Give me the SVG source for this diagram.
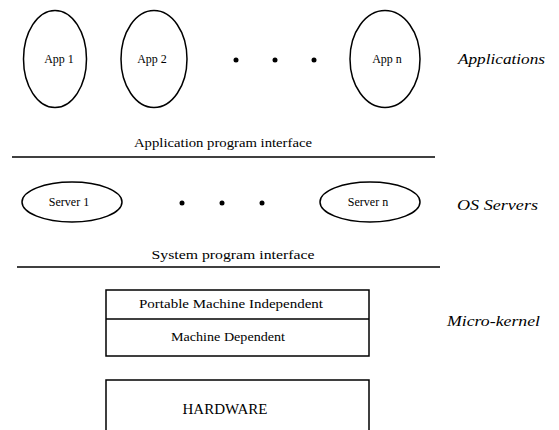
<svg xmlns="http://www.w3.org/2000/svg" width="559" height="430" viewBox="0 0 559 430">
<style>
.sh{fill:none;stroke:#000;stroke-width:1.5}
.ln{stroke:#000;stroke-width:1.3}
.t{font-family:"Liberation Serif","DejaVu Serif","Times New Roman",serif;font-size:12px;fill:#000;text-anchor:middle}
.it{font-family:"Liberation Serif","DejaVu Serif","Times New Roman",serif;font-size:14.5px;font-style:italic;fill:#000}
.dot{fill:#000}
</style>
<rect width="559" height="430" fill="#fff"/>
<g id="app1"><ellipse class="sh" cx="55" cy="59" rx="31.5" ry="48.5"/><text class="t" x="59" y="63">App 1</text></g>
<g id="app2"><ellipse class="sh" cx="154" cy="59" rx="33" ry="48.5"/><text class="t" x="152" y="63">App 2</text></g>
<g id="appn"><ellipse class="sh" cx="385" cy="59" rx="35" ry="48.5"/><text class="t" x="387" y="63">App n</text></g>
<g id="appdots"><circle class="dot" cx="236" cy="60" r="2.5"/><circle class="dot" cx="275" cy="60" r="2.5"/><circle class="dot" cx="314" cy="60" r="2.5"/></g>
<text class="it" x="458" y="64" textLength="87" lengthAdjust="spacingAndGlyphs">Applications</text>
<g id="api"><text class="t" x="223" y="147" textLength="178" lengthAdjust="spacingAndGlyphs">Application program interface</text><line class="ln" x1="12" y1="157" x2="435" y2="157"/></g>
<g id="server1"><ellipse class="sh" cx="72" cy="202" rx="50" ry="20"/><text class="t" x="69" y="206">Server 1</text></g>
<g id="servern"><ellipse class="sh" cx="370" cy="202" rx="50" ry="20"/><text class="t" x="368" y="206">Server n</text></g>
<g id="serverdots"><circle class="dot" cx="182" cy="203" r="2.5"/><circle class="dot" cx="222" cy="203" r="2.5"/><circle class="dot" cx="262" cy="203" r="2.5"/></g>
<text class="it" x="457" y="210" textLength="81" lengthAdjust="spacingAndGlyphs">OS Servers</text>
<g id="spi"><text class="t" x="233" y="259" textLength="163" lengthAdjust="spacingAndGlyphs">System program interface</text><line class="ln" x1="17" y1="267" x2="440" y2="267"/></g>
<g id="microkernel">
<rect class="sh" x="106" y="290" width="263" height="66"/>
<line class="ln" x1="106" y1="319" x2="369" y2="319"/>
<text class="t" x="231" y="308" textLength="184" lengthAdjust="spacingAndGlyphs">Portable Machine Independent</text>
<text class="t" x="228" y="341" textLength="114" lengthAdjust="spacingAndGlyphs">Machine Dependent</text>
</g>
<text class="it" x="447" y="326" textLength="93" lengthAdjust="spacingAndGlyphs">Micro-kernel</text>
<g id="hardware"><path class="sh" d="M106 440 V380 H369 V440"/><text class="t" x="225" y="414" style="font-size:15px">HARDWARE</text></g>
</svg>
